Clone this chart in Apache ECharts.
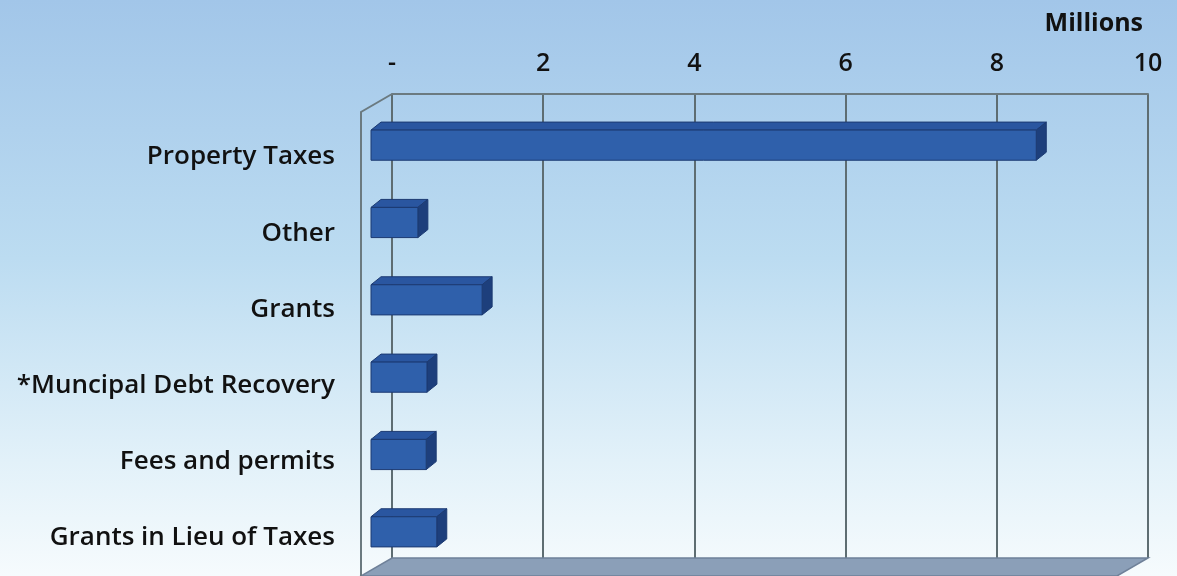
<!DOCTYPE html>
<html>
<head>
<meta charset="utf-8">
<script src="https://cdn.jsdelivr.net/npm/echarts@6/dist/echarts.min.js"></script>
<style>
  html, body { margin: 0; padding: 0; }
  #chart { width: 1177px; height: 576px; }
</style>
</head>
<body>
<div id="chart"></div>
<script>
// Revenue sources (millions)
const categories = ['Property Taxes', 'Other', 'Grants', '*Muncipal Debt Recovery', 'Fees and permits', 'Grants in Lieu of Taxes'];
const revenue = [8.8, 0.62, 1.47, 0.74, 0.73, 0.87];
const tickValues = [0, 2, 4, 6, 8, 10];
const tickLabels = ['-', '2', '4', '6', '8', '10'];
const unitLabel = 'Millions';

const FONT = '"Open Sans", "Noto Sans", sans-serif';

// Depth of the 3-D box: back wall -> front plane
const DEPTH_X = -31, DEPTH_Y = 18;
// Bar front face offset from the back wall, and bar thickness in depth
const FACE_X = -21, FACE_Y = 12.5;
const BAR_DX = 10, BAR_DY = -8;

const chart = echarts.init(document.getElementById('chart'));

function renderBar(params, api) {
  const v = api.value(0);
  const idx = api.value(1);
  const p0 = api.coord([0, idx]);
  const p1 = api.coord([v, idx]);
  const band = api.size([0, 1])[1];
  const h = band * 0.39;
  const x0 = p0[0] + FACE_X, x1 = p1[0] + FACE_X;
  const yc = p0[1] + FACE_Y;
  const top = yc - h / 2, bottom = yc + h / 2;
  const edge = '#1c3a72';
  return {
    type: 'group',
    children: [
      {
        type: 'polygon',
        shape: { points: [[x0, top], [x1, top], [x1 + BAR_DX, top + BAR_DY], [x0 + BAR_DX, top + BAR_DY]] },
        style: { fill: '#2a56a0', stroke: edge, lineWidth: 1 }
      },
      {
        type: 'polygon',
        shape: { points: [[x1, top], [x1 + BAR_DX, top + BAR_DY], [x1 + BAR_DX, bottom + BAR_DY], [x1, bottom]] },
        style: { fill: '#1d3f7c', stroke: edge, lineWidth: 1 }
      },
      {
        type: 'rect',
        shape: { x: x0, y: top, width: x1 - x0, height: h },
        style: { fill: '#2f60ab', stroke: edge, lineWidth: 1 }
      }
    ]
  };
}

// Floor and left side edge of the plot box
function renderBox(params, api) {
  const cs = params.coordSys;
  const x = cs.x, y = cs.y, w = cs.width, hgt = cs.height;
  const fy = y + hgt;
  return {
    type: 'group',
    children: [
      {
        type: 'polygon',
        shape: { points: [[x, fy], [x + w, fy], [x + w + DEPTH_X, fy + DEPTH_Y], [x + DEPTH_X, fy + DEPTH_Y]] },
        style: { fill: '#8b9fb8', stroke: '#6f8199', lineWidth: 1.5 }
      },
      {
        type: 'polyline',
        shape: { points: [[x, y], [x + DEPTH_X, y + DEPTH_Y], [x + DEPTH_X, fy + DEPTH_Y]] },
        style: { fill: null, stroke: '#6b7a80', lineWidth: 2 }
      }
    ]
  };
}

const option = {
  animation: false,
  backgroundColor: {
    type: 'linear', x: 0, y: 0, x2: 0, y2: 1,
    colorStops: [
      { offset: 0, color: '#a2c6e9' },
      { offset: 0.45, color: '#bcdcf1' },
      { offset: 0.8, color: '#e2f1f9' },
      { offset: 1, color: '#f6fbfd' }
    ]
  },
  title: {
    text: unitLabel,
    right: 29, top: 6,
    textStyle: { fontFamily: FONT, fontSize: 25, fontWeight: 'bold', color: '#111' }
  },
  grid: [
    { left: 392, top: 94, width: 756, height: 464 },
    { left: 361, top: 119, width: 756, height: 464 }
  ],
  xAxis: [
    {
      gridIndex: 0, type: 'value', position: 'top',
      min: 0, max: 10, interval: 2,
      axisLine: { show: true, lineStyle: { color: '#6b7a80', width: 2 } },
      axisTick: { show: false },
      axisLabel: {
        margin: 18, fontFamily: FONT, fontSize: 25, fontWeight: 600, color: '#111',
        formatter: v => tickLabels[tickValues.indexOf(v)]
      },
      splitLine: { show: true, lineStyle: { color: '#5e6d72', width: 2 } }
    },
    { gridIndex: 1, type: 'value', min: 0, max: 10, show: false }
  ],
  yAxis: [
    {
      gridIndex: 0, type: 'category', data: categories, inverse: true,
      axisLine: { show: false }, axisTick: { show: false }, axisLabel: { show: false }
    },
    {
      gridIndex: 1, type: 'category', data: categories, inverse: true,
      axisLine: { show: false }, axisTick: { show: false },
      axisLabel: { margin: 26, fontFamily: FONT, fontSize: 26, fontWeight: 600, color: '#111' }
    }
  ],
  series: [
    {
      type: 'custom', xAxisIndex: 0, yAxisIndex: 0, silent: true, z: 1,
      data: [[0, 0]], renderItem: renderBox
    },
    {
      type: 'custom', xAxisIndex: 0, yAxisIndex: 0, z: 3,
      data: revenue.map((v, i) => [v, i]),
      encode: { x: 0, y: 1 },
      renderItem: renderBar
    }
  ]
};

chart.setOption(option);
</script>
</body>
</html>
